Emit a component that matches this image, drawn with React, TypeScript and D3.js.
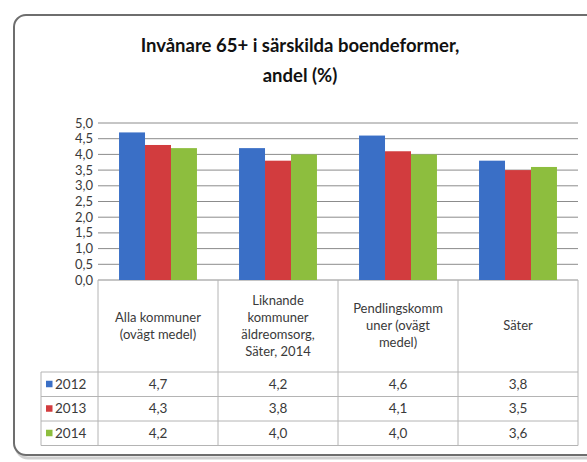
import React from 'react';
import * as d3 from 'd3';

// chart data
const categories = [
  ['Alla kommuner', '(ovägt medel)'],
  ['Liknande', 'kommuner', 'äldreomsorg,', 'Säter, 2014'],
  ['Pendlingskomm', 'uner (ovägt', 'medel)'],
  ['Säter'],
];
const years = ['2012', '2013', '2014'];
const values2012 = [4.7, 4.2, 4.6, 3.8];
const values2013 = [4.3, 3.8, 4.1, 3.5];
const values2014 = [4.2, 4.0, 4.0, 3.6];
const yTicks = [0, 0.5, 1, 1.5, 2, 2.5, 3, 3.5, 4, 4.5, 5];
const colors = ['#3a6fc6', '#d23c3e', '#8dbe3e'];

const series = [values2012, values2013, values2014];
const fmt = (v: number) => v.toFixed(1).replace('.', ',');
const font = 'Lato, "Open Sans", sans-serif';

const App = () => {
  //set plot area
  const left = 98;
  const right = 578;
  const top = 123;
  const bottom = 280;
  const headerBottom = 372;
  const rowH = 24.5;
  const legendLeft = 41;

  const keys = categories.map((d, i) => String(i));
  const x = d3.scaleBand().domain(keys).range([left, right]);
  const xs = d3.scaleBand().domain(years).range([0, x.bandwidth()]).paddingOuter(0.81);
  const y = d3.scaleLinear().domain([0, 5]).range([bottom, top]);

  const boundaries = keys.map((k) => x(k) as number).concat([right]);
  const tableBottom = headerBottom + rowH * years.length;

  return (
    <svg
      width={587}
      height={462}
      style={{ position: 'absolute', left: 0, top: 0, background: '#fff' }}
      fontFamily={font}
    >
      {/* frame */}
      <rect x={16} y={18} width={600} height={440} rx={12} fill="none" stroke="#cfcfcf" strokeWidth={3} />
      <rect x={14} y={15} width={600} height={440} rx={12} fill="#fff" stroke="#6e6e6e" strokeWidth={2} />

      {/* title */}
      <text x={300} y={52} textAnchor="middle" fontSize={18.5} fontWeight="bold" fill="#111">
        Invånare 65+ i särskilda boendeformer,
      </text>
      <text x={300} y={82} textAnchor="middle" fontSize={18.5} fontWeight="bold" fill="#111">
        andel (%)
      </text>

      {/* gridlines and y labels */}
      {yTicks.map((t) => (
        <g key={t}>
          <line x1={left} x2={right} y1={y(t)} y2={y(t)} stroke="#8c8c8c" strokeWidth={1} />
          <text x={93} y={y(t) + 4.5} textAnchor="end" fontSize={13} fill="#3a3a3a">
            {fmt(t)}
          </text>
        </g>
      ))}

      {/* bars */}
      {series.map((vals, si) =>
        vals.map((v, ci) => (
          <rect
            key={`${si}-${ci}`}
            x={(x(keys[ci]) as number) + (xs(years[si]) as number)}
            y={y(v)}
            width={xs.bandwidth()}
            height={y(0) - y(v)}
            fill={colors[si]}
          />
        ))
      )}

      {/* data table */}
      <g stroke="#b4b4b4" strokeWidth={1}>
        {boundaries.map((bx, i) => (
          <line key={i} x1={bx} x2={bx} y1={bottom} y2={tableBottom} />
        ))}
        <line x1={legendLeft} x2={legendLeft} y1={headerBottom} y2={tableBottom} />
        {years.map((yr, i) => (
          <line key={yr} x1={legendLeft} x2={right} y1={headerBottom + rowH * i} y2={headerBottom + rowH * i} />
        ))}
        <line x1={legendLeft} x2={right} y1={tableBottom} y2={tableBottom} />
      </g>

      {categories.map((lines, ci) => {
        const cx = (x(keys[ci]) as number) + x.bandwidth() / 2;
        const lh = 17;
        const y0 = 330 - ((lines.length - 1) * lh) / 2;
        return (
          <text key={ci} textAnchor="middle" fontSize={13} fill="#3a3a3a">
            {lines.map((l, li) => (
              <tspan key={li} x={cx} y={y0 + li * lh}>
                {l}
              </tspan>
            ))}
          </text>
        );
      })}

      {years.map((yr, si) => {
        const ry = headerBottom + rowH * si + rowH / 2;
        return (
          <g key={yr}>
            <rect x={46} y={ry - 3.5} width={6.5} height={6.5} fill={colors[si]} />
            <text x={55} y={ry + 4.5} fontSize={13.5} fill="#3a3a3a">
              {yr}
            </text>
            {series[si].map((v, ci) => (
              <text
                key={ci}
                x={(x(keys[ci]) as number) + x.bandwidth() / 2}
                y={ry + 4.5}
                textAnchor="middle"
                fontSize={13.5}
                fill="#3a3a3a"
              >
                {fmt(v)}
              </text>
            ))}
          </g>
        );
      })}
    </svg>
  );
};

export default App;
